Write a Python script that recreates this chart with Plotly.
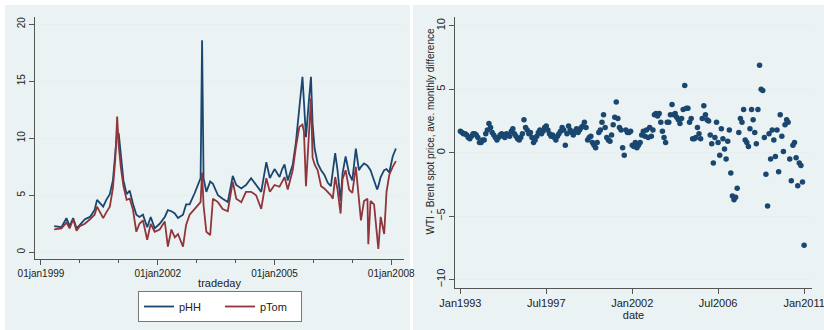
import plotly.graph_objects as go
import pandas as pd

# ---------------- Left panel: daily prices ----------------
trade_dates = [
    "1999-05-05", "1999-07-12", "1999-08-28", "1999-09-27", "1999-10-30", "1999-12-01",
    "2000-01-01", "2000-02-17", "2000-04-05", "2000-05-18", "2000-06-10", "2000-07-08",
    "2000-08-07", "2000-09-05", "2000-10-08", "2000-11-06", "2000-11-28", "2000-12-16",
    "2000-12-31", "2001-01-19", "2001-02-13", "2001-03-15", "2001-04-13", "2001-05-12",
    "2001-06-14", "2001-07-13", "2001-08-15", "2001-09-24", "2001-10-27", "2001-12-03",
    "2002-01-19", "2002-03-08", "2002-04-06", "2002-05-09", "2002-06-10", "2002-07-10",
    "2002-08-26", "2002-09-24", "2002-10-27", "2002-12-14", "2003-01-12", "2003-02-07",
    "2003-02-21", "2003-03-07", "2003-04-02", "2003-05-08", "2003-06-03", "2003-07-20",
    "2003-09-02", "2003-10-20", "2003-12-06", "2004-01-08", "2004-02-24", "2004-04-08",
    "2004-05-26", "2004-07-12", "2004-08-29", "2004-10-16", "2004-11-18", "2005-01-01",
    "2005-02-17", "2005-03-14", "2005-04-05", "2005-05-05", "2005-06-21", "2005-07-20",
    "2005-08-22", "2005-09-20", "2005-10-04", "2005-10-23", "2005-11-17", "2005-12-09",
    "2005-12-24", "2006-01-12", "2006-02-10", "2006-03-14", "2006-04-13", "2006-05-16",
    "2006-06-14", "2006-07-02", "2006-07-24", "2006-08-15", "2006-09-13", "2006-10-01",
    "2006-10-30", "2006-12-02", "2007-01-01", "2007-02-03", "2007-03-04", "2007-03-23",
    "2007-04-21", "2007-05-23", "2007-05-31", "2007-06-21", "2007-07-24", "2007-08-22",
    "2007-09-02", "2007-09-24", "2007-10-27", "2007-11-18", "2007-12-14", "2008-01-15",
    "2008-02-14",
]
pHH = [
    2.3, 2.2, 3.0, 2.3, 3.0, 2.1,
    2.4, 2.9, 3.1, 3.7, 4.6, 4.3,
    4.0, 4.6, 5.1, 6.3, 8.3, 10.5,
    10.4, 8.6, 6.3, 5.1, 5.4, 4.3,
    3.3, 3.1, 3.3, 2.2, 3.1, 2.1,
    2.5, 3.1, 3.7, 3.6, 3.4, 3.0,
    3.3, 4.2, 4.2, 5.2, 5.9, 6.5,
    18.6, 6.5, 5.3, 6.2, 6.0, 5.0,
    4.7, 4.4, 6.7, 5.9, 5.6, 5.9,
    6.5, 5.9, 5.3, 7.9, 6.5, 7.3,
    6.6, 7.3, 7.7, 6.3, 7.7, 9.6,
    12.5, 15.4, 13.2, 10.1, 13.0, 15.4,
    11.3, 9.1, 7.8, 7.2, 6.8, 6.1,
    5.8, 7.2, 8.7, 7.2, 4.5, 6.9,
    8.4, 6.9, 6.3, 9.1, 7.2, 7.5,
    7.8, 7.6, 7.5, 7.2, 6.3, 5.5,
    5.8, 6.6, 7.2, 7.3, 7.0, 8.4,
    9.1,
]
pTom = [
    2.0, 2.1, 2.6, 2.1, 2.9, 1.9,
    2.3, 2.5, 2.9, 3.3, 4.0, 3.5,
    3.0, 3.5, 4.0, 5.6, 8.1, 11.9,
    9.3, 7.5, 5.8, 4.6, 4.7, 3.8,
    1.8, 2.5, 2.8, 1.1, 2.5, 1.8,
    2.0, 2.7, 0.5, 2.0, 1.3, 1.6,
    0.5, 2.4, 3.3, 3.8, 4.1, 4.4,
    7.0, 4.1, 1.8, 1.5, 4.7, 4.4,
    3.8, 3.6, 6.2, 4.7, 4.4, 5.3,
    5.3, 5.0, 3.8, 6.5, 5.3, 5.9,
    5.75, 6.2, 6.6, 5.5, 7.2, 9.2,
    11.0, 11.2, 10.6, 5.8, 9.5, 13.5,
    8.3, 7.7, 7.2, 5.8, 5.6, 5.3,
    5.0, 4.7, 6.6, 5.5, 3.4, 6.4,
    7.2, 5.5, 5.2, 7.5, 4.2, 2.8,
    4.5, 4.7, 0.7, 4.5, 4.2, 1.3,
    0.3, 3.1, 1.6, 5.3, 6.8, 7.5,
    8.0,
]
left_tickvals = ["1999-01-01", "2002-01-01", "2005-01-01", "2008-01-01"]
left_ticktext = ["01jan1999", "01jan2002", "01jan2005", "01jan2008"]
left_yticks = [0, 5, 10, 15, 20]

# ---------------- Right panel: monthly WTI - Brent ----------------
spread = [
    # 1993
    1.7, 1.6, 1.5, 1.5, 1.4, 1.2, 1.1, 1.3, 1.5, 1.5, 1.4, 1.2,
    # 1994
    0.8, 0.8, 1.0, 1.0, 1.5, 1.8, 2.3, 2.0, 1.6, 1.4, 1.2, 1.0,
    # 1995
    1.2, 1.4, 1.5, 1.3, 1.2, 1.5, 1.4, 1.3, 1.7, 1.9, 1.5, 1.3,
    # 1996
    1.1, 1.0, 1.2, 1.5, 2.6, 2.0, 1.8, 1.5, 1.6, 1.2, 0.8, 1.0,
    # 1997
    1.3, 1.6, 1.8, 1.5, 1.7, 2.0, 2.1, 1.8, 1.5, 1.3, 1.4, 1.2,
    # 1998
    1.0, 1.3, 1.5, 1.7, 2.0, 1.8, 0.6, 1.5, 2.1, 1.8, 1.6, 1.4,
    # 1999
    1.7, 1.9, 1.6, 1.8, 2.0, 2.1, 2.4, 2.0, 1.0, 1.2, 1.3, 0.8,
    # 2000
    0.6, 0.4, 0.8, 1.6, 1.8, 2.4, 3.0, 2.0, 1.2, 1.0, 0.9, 1.4,
    # 2001
    2.2, 2.8, 4.0, 2.7, 2.0, 1.8, 0.4, -0.2, 1.8, 1.6, 1.6, 1.7,
    # 2002
    0.6, 0.5, 0.8, 0.4, 0.6, 0.8, 1.4, 1.7, 1.3, 1.8, 1.2, 2.0,
    # 2003
    1.3, 1.8, 3.0, 3.1, 2.9, 3.1, 2.4, 1.7, 1.2, 0.8, 2.4, 2.4,
    # 2004
    3.0, 3.8, 3.0, 3.1, 2.8, 2.6, 2.3, 2.7, 3.4, 5.3, 3.5, 3.5,
    # 2005
    2.4, 2.7, 1.1, 1.1, 1.2, 2.0, 1.5, 1.1, 2.7, 3.7, 3.0, 2.6,
    # 2006
    2.5, 1.4, 0.7, -0.8, 1.2, 2.4, 0.8, -0.2, 1.9, 1.1, 0.3, -0.5,
    # 2007
    0.9, 1.8, -1.6, -3.4, -3.7, -3.5, -2.8, 1.6, 2.7, 2.4, 3.4, 1.0,
    # 2008
    0.8, 0.5, 1.9, 3.4, 2.6, 1.6, 0.7, 3.4, 6.9, 5.0, 4.9, 1.2,
    # 2009
    -1.7, -4.2, 1.5, -0.5, 1.8, 1.0, -0.3, 1.8, -1.5, 3.0, 1.3, 0.1,
    # 2010
    2.2, 2.6, 2.4, -0.5, -2.2, 0.6, 0.8, -0.4, -2.6, -0.8, -1.0, -2.3,
    # 2011
    -7.3,
]
spread_dates = pd.date_range(start="1993-01-01", periods=len(spread), freq="MS")
right_tickvals = ["1993-01-01", "1997-07-01", "2002-01-01", "2006-07-01", "2011-01-01"]
right_ticktext = ["Jan1993", "Jul1997", "Jan2002", "Jul2006", "Jan2011"]
right_yticks = [-10, -5, 0, 5, 10]
right_ytitle = "WTI - Brent spot price, ave. monthly difference"

NAVY = "#1a476f"
MAROON = "#90353b"
BG = "#eaf2f3"
GRID = "#e6eef0"
AXIS = "#555555"
W, H = 824, 330


def px(x):
    return x / W


def py(y):
    return 1 - y / H


fig = go.Figure()
fig.add_trace(go.Scatter(x=trade_dates, y=pHH, mode="lines", name="pHH",
                         line=dict(color=NAVY, width=1.8), xaxis="x", yaxis="y"))
fig.add_trace(go.Scatter(x=trade_dates, y=pTom, mode="lines", name="pTom",
                         line=dict(color=MAROON, width=1.8), xaxis="x", yaxis="y"))
fig.add_trace(go.Scatter(x=spread_dates, y=spread, mode="markers", showlegend=False,
                         marker=dict(color=NAVY, size=5.5), xaxis="x2", yaxis="y2"))

font_l = dict(family="Liberation Sans", size=10, color="#222")
font_r = dict(family="Liberation Sans", size=11, color="#222")

fig.update_layout(
    width=W, height=H,
    margin=dict(l=0, r=0, t=0, b=0, autoexpand=False),
    paper_bgcolor="white",
    plot_bgcolor="white",
    showlegend=True,
    legend=dict(orientation="h", x=px(138), y=py(306.5), xanchor="left", yanchor="middle",
                bgcolor="white", bordercolor="#777", borderwidth=1,
                font=dict(family="Liberation Sans", size=11, color="#222"),
                entrywidth=36, itemwidth=30, tracegroupgap=0),
    xaxis=dict(domain=[px(35), px(404)], type="date", automargin=False,
               range=["1998-11-06", "2008-04-30"],
               tickvals=left_tickvals, ticktext=left_ticktext, ticklabeloverflow="allow",
               ticks="outside", ticklen=5, tickcolor=AXIS,
               minor=dict(dtick="M12", tick0="1999-01-01", ticks="outside", ticklen=3, tickcolor=AXIS, showgrid=False),
               showline=True, linecolor=AXIS, linewidth=1, showgrid=False, zeroline=False,
               tickfont=font_l, anchor="y",
               title=dict(text="tradeday", font=dict(family="Liberation Sans", size=11, color="#222"), standoff=1)),
    yaxis=dict(domain=[py(259), py(17)], range=[-0.59, 20.64], automargin=False,
               tickvals=left_yticks, tickangle=-90,
               ticks="outside", ticklen=5, tickcolor=AXIS,
               showline=True, linecolor=AXIS, linewidth=1,
               showgrid=True, gridcolor=GRID, gridwidth=1.2, zeroline=False,
               tickfont=font_l, anchor="x"),
    xaxis2=dict(domain=[px(455), px(812)], type="date", automargin=False,
                range=["1992-09-20", "2011-06-01"],
                tickvals=right_tickvals, ticktext=right_ticktext, ticklabeloverflow="allow",
                ticks="outside", ticklen=5, tickcolor=AXIS,
                showline=True, linecolor=AXIS, linewidth=1, showgrid=False, zeroline=False,
                tickfont=font_r, anchor="y2",
                title=dict(text="date", font=font_r, standoff=0)),
    yaxis2=dict(domain=[py(288), py(17)], range=[-10.66, 10.7], automargin=False,
                tickvals=right_yticks, tickangle=-90,
                ticks="outside", ticklen=5, tickcolor=AXIS,
                showline=True, linecolor=AXIS, linewidth=1,
                showgrid=True, gridcolor=GRID, gridwidth=1.2, zeroline=False,
                tickfont=font_r, anchor="x2"),
    annotations=[
        dict(text=right_ytitle, xref="paper", yref="paper", x=px(430), y=py(131.5),
             xanchor="center", yanchor="middle", textangle=-90, showarrow=False,
             font=dict(family="Liberation Sans", size=10, color="#222")),
    ],
    shapes=[
        dict(type="rect", xref="paper", yref="paper", x0=px(5), x1=px(410), y0=0, y1=py(5),
             fillcolor=BG, line=dict(width=0), layer="below"),
        dict(type="rect", xref="paper", yref="paper", x0=px(413), x1=1, y0=0, y1=py(5),
             fillcolor=BG, line=dict(width=0), layer="below"),
    ],
)

fig.write_html("out.html")
